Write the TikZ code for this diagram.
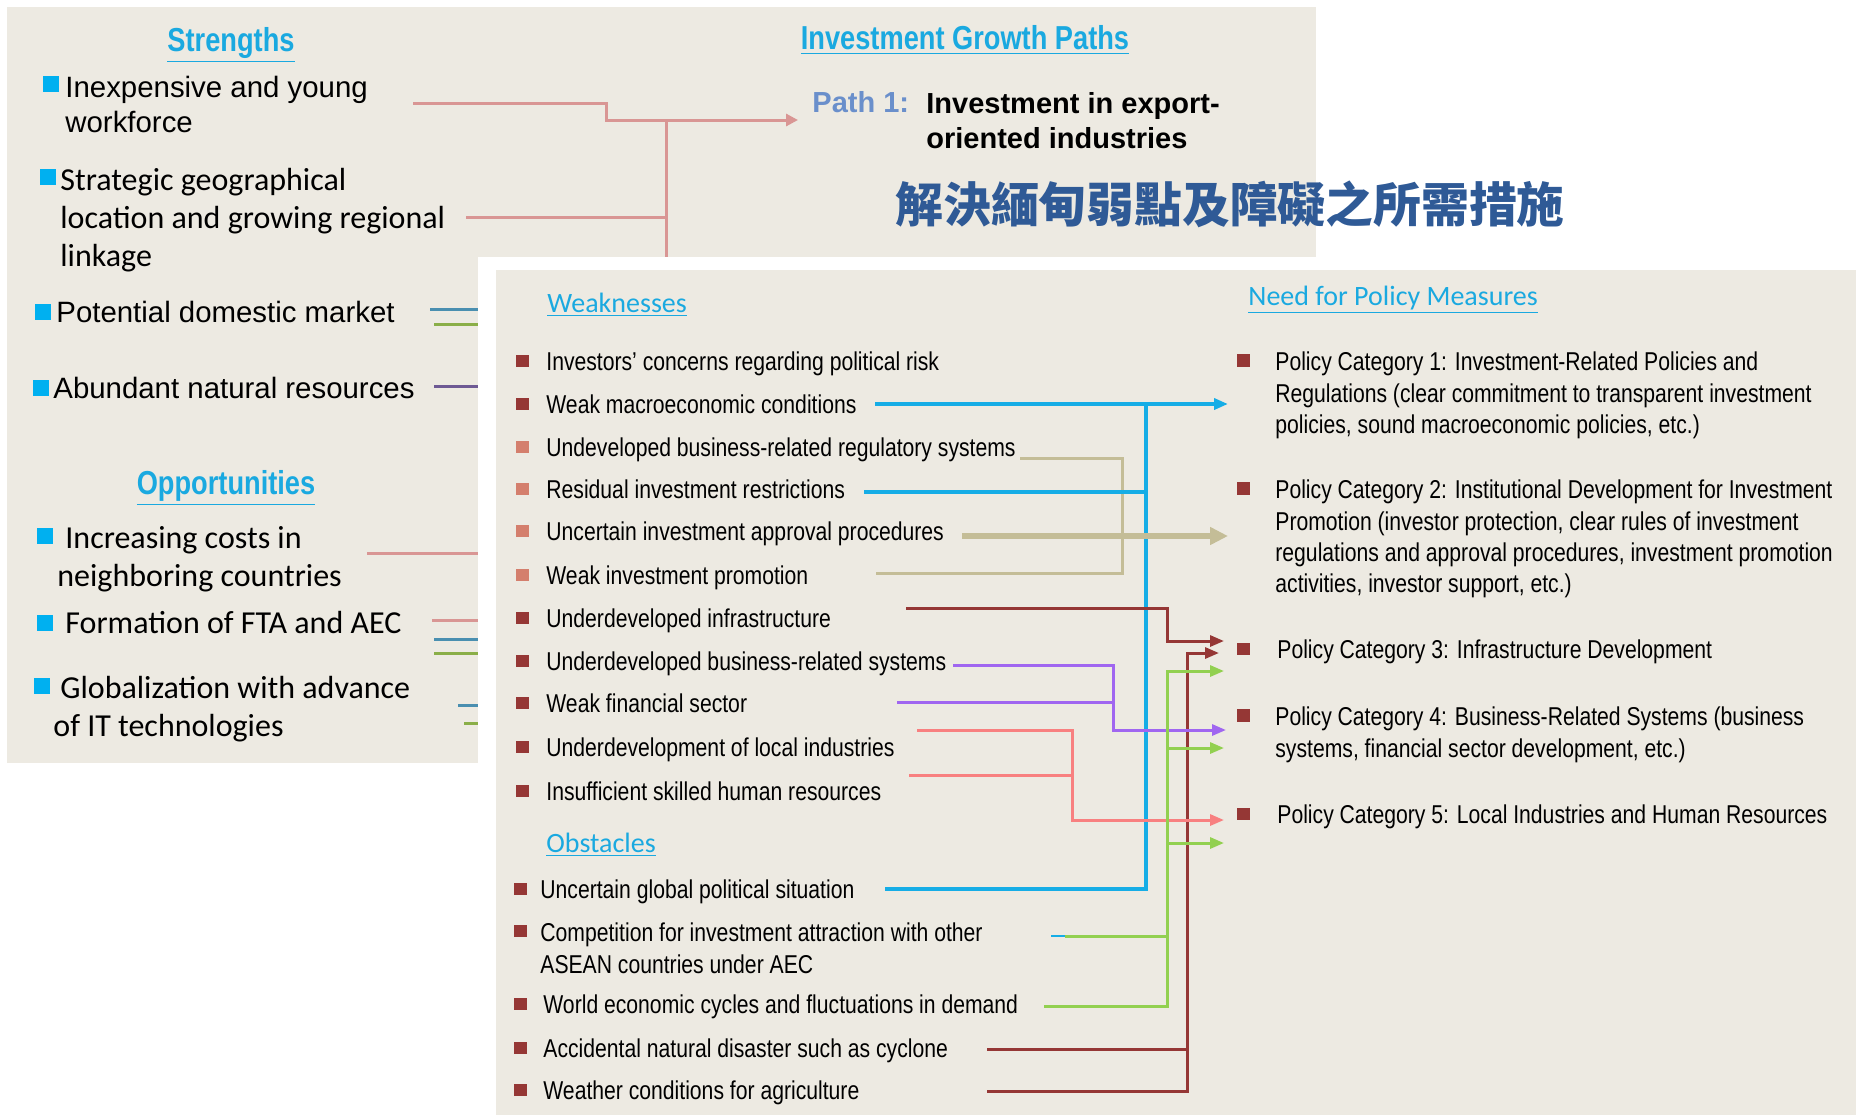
\documentclass[tikz,border=0pt]{standalone}
\usepackage{fontspec}
\setmainfont{Liberation Sans}
\newfontfamily\arialf{Liberation Sans}
\newfontfamily\narrowf[FakeStretch=0.82]{Liberation Sans}
\newfontfamily\calibf{Carlito}
\newfontfamily\cjkf{Noto Sans CJK TC}
\usepackage{xcolor}
\usetikzlibrary{arrows.meta,positioning}
\definecolor{panelbg}{HTML}{EDEAE2}
\definecolor{headblue}{HTML}{1AA9E0}
\definecolor{sqblue}{HTML}{00B0F0}
\definecolor{pathblue}{HTML}{6A8FCB}
\definecolor{titleblue}{HTML}{2F5A96}
\definecolor{wred}{HTML}{953735}
\definecolor{wsalmon}{HTML}{D47F6D}
\definecolor{sspink}{HTML}{D99694}
\definecolor{ssteal}{HTML}{4A8FB0}
\definecolor{ssgreen}{HTML}{8AAE48}
\definecolor{sspurple}{HTML}{6E5A94}
\definecolor{lnblue}{HTML}{16ADE6}
\definecolor{lntan}{HTML}{C4BD97}
\definecolor{lnpurple}{HTML}{A066F0}
\definecolor{lnsalmon}{HTML}{F88080}
\definecolor{lngreen}{HTML}{92D050}

\begin{document}
\begin{tikzpicture}[x=0.5pt, y=-0.5pt,
  bsq/.style={fill=sqblue, minimum size=8pt, inner sep=0pt},
  rsq/.style={fill=wred, minimum size=6.4pt, inner sep=0pt},
  ssq/.style={fill=wsalmon, minimum size=6.4pt, inner sep=0pt},
  head/.style={font=\narrowf\bfseries\fontsize{16.6}{20}\selectfont, text=headblue, inner sep=0pt, text height=11.9pt, text depth=0pt},
  subhead/.style={anchor=west, font=\calibf\fontsize{14}{17}\selectfont, text=headblue, inner sep=0pt, text height=9pt, text depth=0pt},
  big/.style={anchor=west, inner sep=0pt, font=\arialf\fontsize{14.7}{17.5}\selectfont, text height=10.5pt, text depth=0pt},
  bigpar/.style={anchor=north west, inner sep=0pt, align=left, font=\arialf\fontsize{14.7}{17.5}\selectfont},
  cal/.style={anchor=west, inner sep=0pt, font=\calibf\fontsize{16}{19}\selectfont, text height=10.3pt, text depth=0pt},
  calpar/.style={anchor=north west, inner sep=0pt, align=left, font=\calibf\fontsize{16}{19}\selectfont},
  item/.style={anchor=west, inner sep=0pt, font=\narrowf\fontsize{12.9}{15.6}\selectfont, text height=9.2pt, text depth=0pt},
  itempar/.style={anchor=north west, inner sep=0pt, align=left, font=\narrowf\fontsize{12.9}{15.6}\selectfont},
  link/.style={line width=1.5pt, draw=#1},
  stub/.style={line width=1.5pt, draw=#1},
  arr/.style={-{Triangle[length=7pt,width=5.5pt]}}
]
\useasboundingbox (0,0) rectangle (1856,1115);

\fill[panelbg] (7,7) rectangle (1316,763);
\node[head] (strh) at (231,40) {\underline{Strengths}};
\node[head] (igph) at (965,38) {\underline{Investment Growth Paths}};
\node[anchor=west, inner sep=0pt, font=\arialf\bfseries\fontsize{14.5}{17.5}\selectfont, text=pathblue, text height=10.4pt, text depth=0pt] (path1) at (812,102) {Path 1:};
\node[anchor=north west, inner sep=0pt, align=left, font=\arialf\bfseries\fontsize{14.5}{17.5}\selectfont] (path1t) at (926,91.6) {Investment in export-\\oriented industries};
\node[font=\cjkf\bfseries\fontsize{23.9}{28}\selectfont, text=titleblue, inner sep=0pt] (title) at (1230,204) {解決緬甸弱點及障礙之所需措施};

\node[bigpar] (s1) at (65,75.5) {Inexpensive and young\\workforce};
\node[bsq, below left=0.2pt and 3pt of s1.north west] (sb1) {};
\node[calpar] (s2) at (60,167.8) {Strategic geographical\\location and growing regional\\linkage};
\node[bsq, below left=0.6pt and 2pt of s2.north west] (sb2) {};
\node[big] (s3) at (56,312) {Potential domestic market};
\node[bsq, left=2.5pt of s3] (sb3) {};
\node[big] (s4) at (53,388) {Abundant natural resources};
\node[bsq, left=2pt of s4] (sb4) {};

\node[head] (opph) at (226,483) {\underline{Opportunities}};
\node[calpar] (o1) at (57,525.8) {\hspace*{4pt}Increasing costs in\\neighboring countries};
\node[bsq, below left=1pt and 2pt of o1.north west] (ob1) {};
\node[cal] (o2) at (65,623) {Formation of FTA and AEC};
\node[bsq, left=6pt of o2] (ob2) {};
\node[calpar] (o3) at (53,675.8) {\hspace*{3.5pt}Globalization with advance\\of IT technologies};
\node[bsq, below left=1pt and 1.5pt of o3.north west] (ob3) {};

\coordinate (s1e) at (413,103);
\coordinate (s2e) at (466,217);
\coordinate (trunk) at (666,120);
\coordinate (trunkb) at (666,300);
\coordinate (path1in) at (798,120);
\draw[stub=sspink, -{Triangle[length=6pt,width=6pt]}] (s1e) -- ++(193,0) |- (path1in);
\draw[stub=sspink] (trunk) -- (trunkb);
\draw[stub=sspink] (s2e) -- (s2e -| trunk);
\coordinate (s3a) at (430,309);
\coordinate (s3b) at (434,324);
\coordinate (s4a) at (434,386);
\coordinate (o1a) at (367,553);
\coordinate (o2a) at (432,620);
\coordinate (o2b) at (434,639);
\coordinate (o2c) at (434,653);
\coordinate (o3a) at (458,705);
\coordinate (o3b) at (464,723);
\draw[stub=ssteal] (s3a) -- ++(80,0);
\draw[stub=ssgreen] (s3b) -- ++(80,0);
\draw[stub=sspurple] (s4a) -- ++(80,0);
\draw[stub=sspink] (o1a) -- ++(140,0);
\draw[stub=sspink] (o2a) -- ++(80,0);
\draw[stub=ssteal] (o2b) -- ++(80,0);
\draw[stub=ssgreen] (o2c) -- ++(80,0);
\draw[stub=ssteal] (o3a) -- ++(60,0);
\draw[stub=ssgreen] (o3b) -- ++(60,0);

\fill[white] (478,257) rectangle (1856,1115);
\fill[panelbg] (496,270) rectangle (1856,1115);

\node[subhead] (wkh) at (547,303) {\underline{Weaknesses}};
\node[subhead] (pmh) at (1248,296) {\underline{Need for Policy Measures}};

\node[item] (w1) at (546,361) {Investors’ concerns regarding political risk};
\node[rsq, left=8.3pt of w1] (wb1) {};
\node[item] (w2) at (546,404) {Weak macroeconomic conditions};
\node[rsq, left=8.3pt of w2] (wb2) {};
\node[item] (w3) at (546,447) {Undeveloped business-related regulatory systems};
\node[ssq, left=8.3pt of w3] (wb3) {};
\node[item] (w4) at (546,489) {Residual investment restrictions};
\node[ssq, left=8.3pt of w4] (wb4) {};
\node[item] (w5) at (546,531) {Uncertain investment approval procedures};
\node[ssq, left=8.3pt of w5] (wb5) {};
\node[item] (w6) at (546,575) {Weak investment promotion};
\node[ssq, left=8.3pt of w6] (wb6) {};
\node[item] (w7) at (546,618) {Underdeveloped infrastructure};
\node[rsq, left=8.3pt of w7] (wb7) {};
\node[item] (w8) at (546,661) {Underdeveloped business-related systems};
\node[rsq, left=8.3pt of w8] (wb8) {};
\node[item] (w9) at (546,703) {Weak financial sector};
\node[rsq, left=8.3pt of w9] (wb9) {};
\node[item] (w10) at (546,747) {Underdevelopment of local industries};
\node[rsq, left=8.3pt of w10] (wb10) {};
\node[item] (w11) at (546,791) {Insufficient skilled human resources};
\node[rsq, left=8.3pt of w11] (wb11) {};

\node[subhead] (obh) at (546,843) {\underline{Obstacles}};
\node[item] (x1) at (540,889) {Uncertain global political situation};
\node[rsq, left=6.5pt of x1] (xb1) {};
\node[itempar] (x2) at (540,922.8) {Competition for investment attraction with other\\ASEAN countries under AEC};
\node[rsq, below left=0.7pt and 6.5pt of x2.north west] (xb2) {};
\node[item] (x3) at (543,1004) {World economic cycles and fluctuations in demand};
\node[rsq, left=8pt of x3] (xb3) {};
\node[item] (x4) at (543,1048) {Accidental natural disaster such as cyclone};
\node[rsq, left=8pt of x4] (xb4) {};
\node[item] (x5) at (543,1090) {Weather conditions for agriculture};
\node[rsq, left=8pt of x5] (xb5) {};

\node[itempar] (c1) at (1275,351.8) {Policy Category 1: Investment-Related Policies and\\Regulations (clear commitment to transparent investment\\policies, sound macroeconomic policies, etc.)};
\node[rsq, below left=1.1pt and 12.5pt of c1.north west] (cb1) {};
\node[itempar] (c2) at (1275,479.8) {Policy Category 2: Institutional Development for Investment\\Promotion (investor protection, clear rules of investment\\regulations and approval procedures, investment promotion\\activities, investor support, etc.)};
\node[rsq, below left=1.1pt and 12.5pt of c2.north west] (cb2) {};
\node[item] (c3) at (1277,649) {Policy Category 3: Infrastructure Development};
\node[rsq, left=13.5pt of c3] (cb3) {};
\node[itempar] (c4) at (1275,706.8) {Policy Category 4: Business-Related Systems (business\\systems, financial sector development, etc.)};
\node[rsq, below left=1.1pt and 12.5pt of c4.north west] (cb4) {};
\node[item] (c5) at (1277,814) {Policy Category 5: Local Industries and Human Resources};
\node[rsq, left=13.5pt of c5] (cb5) {};

\coordinate (w2o) at (875,404);
\coordinate (w4o) at (864,492);
\coordinate (x1o) at (885,889);
\coordinate (bj) at (1146,404);
\coordinate (c1in) at (1228,404);
\coordinate (w3o) at (1020,458);
\coordinate (w6o) at (876,573);
\coordinate (tj) at (1122,458);
\coordinate (w5o) at (962,536);
\coordinate (c2in) at (1228,536);
\coordinate (w7o) at (906,608);
\coordinate (rj) at (1167,608);
\coordinate (c3in) at (1224,641);
\coordinate (x4o) at (987,1049);
\coordinate (x5o) at (987,1091);
\coordinate (rj2) at (1187,1091);
\coordinate (c3inb) at (1219,653);
\coordinate (w8o) at (953,665);
\coordinate (w9o) at (897,702);
\coordinate (pj) at (1113,665);
\coordinate (c4in) at (1226,730);
\coordinate (w10o) at (917,730);
\coordinate (w11o) at (909,775);
\coordinate (sj) at (1072,730);
\coordinate (c5in) at (1224,820);
\coordinate (x2o) at (1051,936);
\coordinate (x3o) at (1044,1006);
\coordinate (gj) at (1167,1006);
\coordinate (c3ing) at (1224,671);
\coordinate (c4ing) at (1224,748);
\coordinate (c5ing) at (1224,843);

\draw[link=lntan] (w3o) -- (tj) |- (w6o);
\draw[link=lnblue, line width=1.8pt, arr] (w2o) -- (c1in);
\draw[link=lnblue, line width=1.8pt] (w4o) -- (w4o -| bj);
\draw[link=lnblue, line width=1.8pt] (x1o) -| (bj);
\draw[link=lntan, line width=2.8pt, -{Triangle[length=9pt,width=8.5pt]}] (w5o) -- (c2in);
\draw[link=wred, arr] (w7o) -- (rj) |- (c3in);
\draw[link=wred, arr] (x5o) -- (rj2) |- (c3inb);
\draw[link=wred] (x4o) -- (x4o -| rj2);
\draw[link=lnpurple, arr] (w8o) -- (pj) |- (c4in);
\draw[link=lnpurple] (w9o) -- (w9o -| pj);
\draw[link=lnsalmon, arr] (w10o) -- (sj) |- (c5in);
\draw[link=lnsalmon] (w11o) -- (w11o -| sj);
\draw[link=lngreen, arr] (x3o) -- (gj) |- (c3ing);
\draw[link=lngreen, arr] (gj |- c4ing) -- (c4ing);
\draw[link=lngreen, arr] (gj |- c5ing) -- (c5ing);
\draw[link=lnblue, line width=0.8pt] (x2o) -- ++(14,0);
\draw[link=lngreen] ([xshift=7pt]x2o) -- (x2o -| gj);
\end{tikzpicture}
\end{document}
